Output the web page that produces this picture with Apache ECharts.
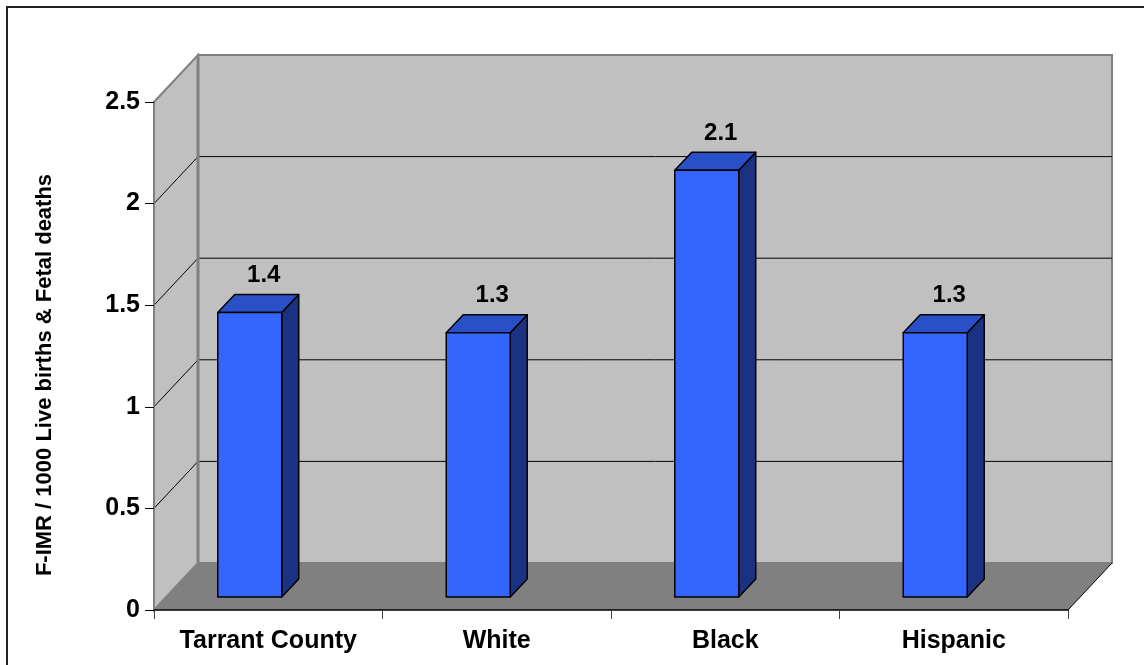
<!DOCTYPE html>
<html>
<head>
<meta charset="utf-8">
<title>F-IMR by race/ethnicity</title>
<script src="https://cdn.jsdelivr.net/npm/echarts@6/dist/echarts.min.js"></script>
<style>
  html, body { margin: 0; padding: 0; background: #ffffff; }
  #chart { width: 1144px; height: 665px; }
</style>
</head>
<body>
<div id="chart"></div>
<script>
// Feto-infant mortality rate per 1000 live births & fetal deaths
const categories = ['Tarrant County', 'White', 'Black', 'Hispanic'];
const rates = [1.4, 1.3, 2.1, 1.3];
const yTicks = [0, 0.5, 1, 1.5, 2, 2.5];
const axisTitle = 'F-IMR / 1000 Live births & Fetal deaths';

const FONT = '"Liberation Sans", Arial, sans-serif';
// depth of the box (wall offset) and of each column
const WALL_DX = 44, WALL_DY = 47;
const BAR_DX = 17, BAR_DY = 18;
const BAR_LIFT = 13;

const chart = echarts.init(document.getElementById('chart'), null, { renderer: 'canvas' });

function renderWalls(params, api) {
  const cs = params.coordSys;
  const x = cs.x, y = cs.y, w = cs.width, h = cs.height;
  const b = y + h;
  const children = [];
  // back wall
  children.push({
    type: 'polygon',
    shape: { points: [[x + WALL_DX, y - WALL_DY], [x + w + WALL_DX, y - WALL_DY], [x + w + WALL_DX, b - WALL_DY], [x + WALL_DX, b - WALL_DY]] },
    style: { fill: '#C0C0C0', stroke: '#808080', lineWidth: 2 }
  });
  // side wall
  children.push({
    type: 'polygon',
    shape: { points: [[x, y], [x + WALL_DX, y - WALL_DY], [x + WALL_DX, b - WALL_DY], [x, b]] },
    style: { fill: '#C0C0C0', stroke: '#808080', lineWidth: 2 }
  });
  // floor
  children.push({
    type: 'polygon',
    shape: { points: [[x, b], [x + WALL_DX, b - WALL_DY], [x + w + WALL_DX, b - WALL_DY], [x + w, b]] },
    style: { fill: '#808080' }
  });
  children.push({
    type: 'line',
    shape: { x1: x + w, y1: b, x2: x + w + WALL_DX, y2: b - WALL_DY },
    style: { stroke: '#000', lineWidth: 1 }
  });
  // gridlines on back and side walls
  yTicks.forEach(function (v) {
    if (v <= 0 || v >= yTicks[yTicks.length - 1]) return;
    const py = api.coord([0, v])[1];
    children.push({
      type: 'line',
      shape: { x1: x + WALL_DX + 1, y1: py - WALL_DY, x2: x + w + WALL_DX, y2: py - WALL_DY },
      style: { stroke: '#000', lineWidth: 1 }
    });
    children.push({
      type: 'line',
      shape: { x1: x, y1: py, x2: x + WALL_DX, y2: py - WALL_DY },
      style: { stroke: '#000', lineWidth: 1 }
    });
  });
  // back-left vertical edge
  children.push({
    type: 'line',
    shape: { x1: x + WALL_DX, y1: y - WALL_DY, x2: x + WALL_DX, y2: b - WALL_DY },
    style: { stroke: '#808080', lineWidth: 3 }
  });
  return { type: 'group', children: children };
}

function renderBar(params, api) {
  const idx = api.value(0);
  const val = api.value(1);
  const base = api.coord([idx, 0]);
  const topPt = api.coord([idx, val]);
  const band = api.size([1, 0])[0];
  const width = band * 0.28;
  const L = base[0] - band * 0.221;
  const R = L + width;
  const B = base[1] - BAR_LIFT;
  const T = topPt[1] - BAR_LIFT;
  const edge = { stroke: '#000', lineWidth: 1.5, lineJoin: 'round' };
  return {
    type: 'group',
    children: [
      {
        type: 'polygon',
        shape: { points: [[R, T], [R + BAR_DX, T - BAR_DY], [R + BAR_DX, B - BAR_DY], [R, B]] },
        style: Object.assign({ fill: '#1B3282' }, edge)
      },
      {
        type: 'polygon',
        shape: { points: [[L, T], [L + BAR_DX, T - BAR_DY], [R + BAR_DX, T - BAR_DY], [R, T]] },
        style: Object.assign({ fill: '#2A50C8' }, edge)
      },
      {
        type: 'rect',
        shape: { x: L, y: T, width: width, height: B - T },
        style: Object.assign({ fill: '#3366FF' }, edge)
      },
      {
        type: 'text',
        x: (L + R) / 2 + 14,
        y: T - BAR_DY - 19,
        style: {
          text: String(val),
          font: 'bold 24px ' + FONT,
          fill: '#000',
          align: 'center',
          verticalAlign: 'middle'
        }
      }
    ]
  };
}

chart.setOption({
  animation: false,
  backgroundColor: '#ffffff',
  grid: { left: 154, right: 76, top: 102, bottom: 55 },
  graphic: [
    {
      type: 'rect',
      shape: { x: 7, y: 7, width: 1160, height: 700 },
      style: { fill: 'none', stroke: '#222', lineWidth: 2 },
      z: 100
    },
    {
      type: 'text',
      x: 45,
      y: 375,
      rotation: Math.PI / 2,
      style: {
        text: axisTitle,
        font: 'bold 22px ' + FONT,
        fill: '#000',
        align: 'center',
        verticalAlign: 'middle'
      }
    }
  ],
  xAxis: {
    type: 'category',
    data: categories,
    boundaryGap: true,
    z: 5,
    axisLine: { show: true, lineStyle: { color: '#000', width: 1.5 } },
    axisTick: { show: true, interval: 0, length: 9, lineStyle: { color: '#404040', width: 1 } },
    axisLabel: { interval: 0, color: '#000', fontFamily: FONT, fontWeight: 'bold', fontSize: 25, margin: 19 },
    splitLine: { show: false }
  },
  yAxis: {
    type: 'value',
    min: 0,
    max: 2.5,
    interval: 0.5,
    z: 5,
    axisLine: { show: true, lineStyle: { color: '#808080', width: 2 } },
    axisTick: { show: true, length: 9, lineStyle: { color: '#000', width: 1 } },
    axisLabel: { color: '#000', fontFamily: FONT, fontWeight: 'bold', fontSize: 25, margin: 14 },
    splitLine: { show: false }
  },
  series: [
    {
      type: 'custom',
      name: 'walls',
      z: 1,
      silent: true,
      renderItem: renderWalls,
      data: [[0, 0]]
    },
    {
      type: 'custom',
      name: 'F-IMR',
      z: 3,
      renderItem: renderBar,
      encode: { x: 0, y: 1 },
      data: rates.map(function (v, i) { return [i, v]; })
    }
  ]
});
</script>
</body>
</html>
